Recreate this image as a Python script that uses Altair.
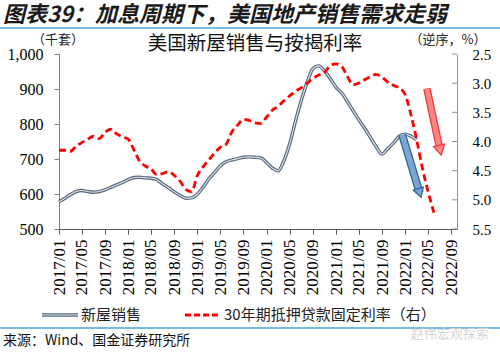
import altair as alt
import pandas as pd

# ---------------- data ----------------
sales = [578, 588, 598, 607, 610, 607, 605, 607, 612, 619, 626, 633, 641, 647, 648,
         646, 645, 641, 629, 618, 606, 596, 588, 589, 600, 620, 642, 661, 680, 692,
         697, 701, 705, 706, 705, 703, 690, 674, 666, 695, 742, 808, 866, 918, 958,
         966, 952, 930, 905, 888, 865, 838, 812, 788, 762, 735, 714, 730, 746, 765,
         771, 765, 755]
rate = [4.15, 4.15, 4.17, 4.08, 4.02, 3.96, 3.91, 3.95, 3.84, 3.79, 3.87, 3.92, 3.96,
        4.15, 4.33, 4.42, 4.47, 4.57, 4.55, 4.52, 4.58, 4.68, 4.82, 4.86, 4.58, 4.43,
        4.32, 4.20, 4.10, 4.05, 3.84, 3.72, 3.62, 3.64, 3.68, 3.69, 3.58, 3.46, 3.40,
        3.30, 3.22, 3.14, 3.08, 3.00, 2.92, 2.86, 2.82, 2.70, 2.67, 2.72, 2.88, 3.03,
        3.00, 2.94, 2.89, 2.85, 2.90, 2.98, 3.04, 3.08, 3.20, 3.55, 3.95, 4.45, 4.85,
        5.22]

left_ticks = [500, 600, 700, 800, 900, 1000]
right_ticks = [2.5, 3.0, 3.5, 4.0, 4.5, 5.0, 5.5]

# arrows (data coordinates): tail -> head centre
blue_arrow = {"x1": ["2021/12/16"], "x2": ["2022/03/18"], "y1": [769], "y2": [603]}
red_arrow = {"x1": ["2022/04/25"], "x2": ["2022/07/04"], "y1": [3.09], "y2": [4.15]}


def month_str(i):
    return f"{2017 + i // 12}/{i % 12 + 1:02d}/01"


df_sales = pd.DataFrame({"date": [month_str(i) for i in range(len(sales))], "sales": sales})
df_rate = pd.DataFrame({"date": [month_str(i) for i in range(len(rate))], "rate": rate})
df_blue = pd.DataFrame(blue_arrow)
df_red = pd.DataFrame(red_arrow)
df_rticks = pd.DataFrame({"t": right_ticks})
one = pd.DataFrame({"k": [0]})

x_ticks = [alt.DateTime(year=2017 + (4 * k) // 12, month=(4 * k) % 12 + 1, date=1) for k in range(18)]
x_scale = alt.Scale(domain=[alt.DateTime(year=2017, month=1, date=1),
                            alt.DateTime(year=2022, month=10, date=1)])
x_axis = alt.Axis(values=x_ticks, format="%Y/%m", labelAngle=270, title=None,
                  labelFont="Liberation Serif", labelFontSize=17, labelColor="#000",
                  tickSize=5, labelPadding=5, domainColor="#555", tickColor="#555",
                  grid=False, labelOverlap=False, labelBound=False, labelFlush=False)

s_scale = alt.Scale(domain=[500, 1000], nice=False, zero=False)
r_scale = alt.Scale(domain=[2.5, 5.5], reverse=True, nice=False, zero=False)

s_axis = alt.Axis(values=left_ticks, format=",.0f", title=None, grid=False, orient="left",
                  labelFont="Liberation Serif", labelFontSize=16, labelColor="#000",
                  tickSize=5, labelPadding=11, domainColor="#808080",
                  tickColor="#808080", labelOverlap=False)
r_axis = alt.Axis(orient="right", values=right_ticks, format=".1f", title=None,
                  grid=False, labelFont="Liberation Serif", labelFontSize=15,
                  labelColor="#000", ticks=False, labelPadding=15,
                  domainColor="#909090", labelOverlap=False)


def XF(field):
    return alt.X(field, scale=x_scale, axis=x_axis)


def YS(field):
    return alt.Y(field, scale=s_scale, axis=s_axis)


def YR(field):
    return alt.Y(field, scale=r_scale, axis=r_axis)


sales_outer = alt.Chart(df_sales).mark_line(color="#56687a", strokeWidth=3.4,
                                            interpolate="monotone").encode(
    x=XF("date:T"), y=YS("sales:Q"))
sales_inner = alt.Chart(df_sales).mark_line(color="#dfe5ec", strokeWidth=1.1,
                                            interpolate="monotone").encode(
    x=XF("date:T"), y=YS("sales:Q"))

blue_shaft_o = alt.Chart(df_blue).mark_rule(color="#2f6290", strokeWidth=8, strokeCap="butt").encode(
    x=XF("x1:T"), x2="x2:T", y=YS("y1:Q"), y2="y2:Q")
blue_shaft_i = alt.Chart(df_blue).mark_rule(color="#79a6d2", strokeWidth=5.5, strokeCap="butt").encode(
    x=XF("x1:T"), x2="x2:T", y=YS("y1:Q"), y2="y2:Q")
blue_head = alt.Chart(df_blue).mark_point(shape="triangle-down", filled=True, size=110,
                                          angle=343, fill="#79a6d2", stroke="#2f6290",
                                          strokeWidth=1.2, opacity=1).encode(
    x=XF("x2:T"), y=YS("y2:Q"))

left = alt.layer(sales_outer, sales_inner, blue_shaft_o, blue_shaft_i, blue_head)

rate_line = alt.Chart(df_rate).mark_line(color="#ff0000", strokeWidth=2.8, strokeDash=[7, 4],
                                         interpolate="monotone").encode(
    x=XF("date:T"), y=YR("rate:Q"))
rticks = alt.Chart(df_rticks).mark_rule(color="#909090", strokeWidth=1).encode(
    x=alt.value(393), x2=alt.value(398), y=YR("t:Q"))
red_shaft_o = alt.Chart(df_red).mark_rule(color="#e8383b", strokeWidth=7.5, strokeCap="butt").encode(
    x=XF("x1:T"), x2="x2:T", y=YR("y1:Q"), y2="y2:Q")
red_shaft_i = alt.Chart(df_red).mark_rule(color="#ff8585", strokeWidth=5, strokeCap="butt").encode(
    x=XF("x1:T"), x2="x2:T", y=YR("y1:Q"), y2="y2:Q")
red_head = alt.Chart(df_red).mark_point(shape="triangle-down", filled=True, size=130,
                                        angle=347, fill="#ff8585", stroke="#e8383b",
                                        strokeWidth=1.2, opacity=1).encode(
    x=XF("x2:T"), y=YR("y2:Q"))

right = alt.layer(rate_line, rticks, red_shaft_o, red_shaft_i, red_head)

CJK = "Noto Sans CJK SC"


def label(text, x, y, size, align="left", weight="normal", style="normal",
          color="#000", font=CJK):
    return alt.Chart(one).mark_text(text=text, align=align, baseline="middle",
                                    fontSize=size, fontWeight=weight, fontStyle=style,
                                    color=color, font=font).encode(
        x=alt.value(x), y=alt.value(y))


def hline(x1, x2, y, color, width, dash=None):
    kw = {"color": color, "strokeWidth": width}
    if dash:
        kw["strokeDash"] = dash
    return alt.Chart(one).mark_rule(**kw).encode(x=alt.value(x1), x2=alt.value(x2),
                                                 y=alt.value(y))


decor = [
    label("图表39：加息周期下，美国地产销售需求走弱", -56, -39, 22, weight="bold",
          style="italic", color="#1a1a1a"),
    hline(-59, 441, -26, "#4fa3d6", 1.6),
    label("美国新屋销售与按揭利率", 196, -10, 19.5, align="center", color="#111"),
    label("（千套）", -1, -14, 13, align="center", color="#222"),
    label("（逆序，%）", 389, -14, 13, align="center", color="#222"),
    hline(-17, 19, 261, "#56687a", 3.4),
    hline(-17, 19, 261, "#dfe5ec", 1.1),
    label("新屋销售", 22, 261, 15, color="#222"),
    hline(126, 161, 261, "#ff0000", 2.8, dash=[6, 3]),
    label("30年期抵押贷款固定利率（右）", 165, 261, 15, color="#222"),
    hline(-59, 441, 274, "#4fa3d6", 1.6),
    label("来源：Wind、国金证券研究所", -56, 287, 14, color="#111"),
    label("赵伟宏观探索", 352, 280, 13, color="#d5d5d5"),
]

chart = alt.layer(left, right, *decor).resolve_scale(y="independent").properties(
    width=398, height=175,
    padding={"left": 59, "top": 54, "right": 43, "bottom": 123},
    autosize=alt.AutoSizeParams(type="none"),
    background="white",
).configure_view(stroke=None)

chart.save("out.html", embed_options={"renderer": "svg", "actions": False})
